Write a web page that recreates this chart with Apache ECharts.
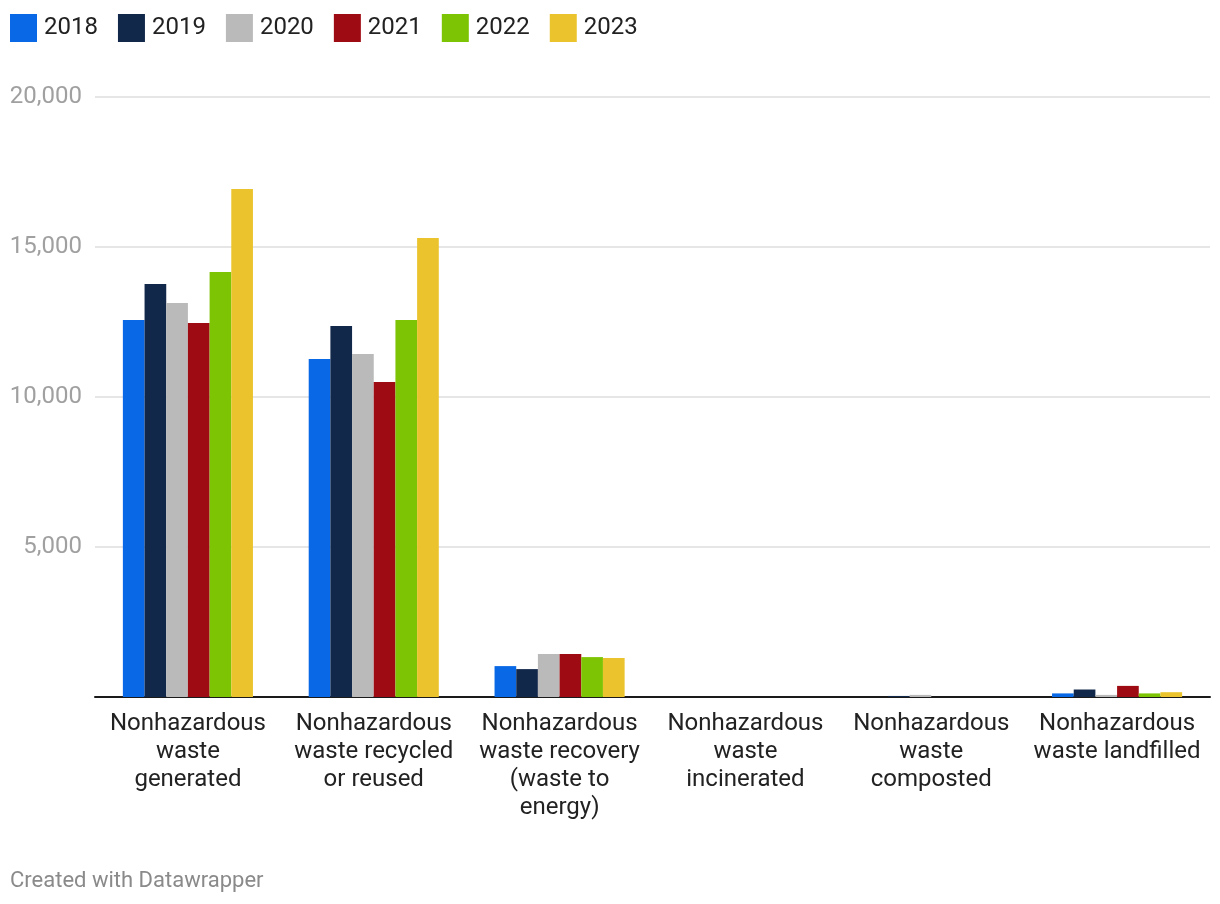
<!DOCTYPE html>
<html>
<head>
<meta charset="utf-8">
<script src="https://cdn.jsdelivr.net/npm/echarts@6/dist/echarts.min.js"></script>
<style>
html,body{margin:0;padding:0;background:#fff;}
#chart{width:1220px;height:904px;}
</style>
</head>
<body>
<div id="chart"></div>
<script>
const categories = [
  "Nonhazardous\nwaste\ngenerated",
  "Nonhazardous\nwaste recycled\nor reused",
  "Nonhazardous\nwaste recovery\n(waste to\nenergy)",
  "Nonhazardous\nwaste\nincinerated",
  "Nonhazardous\nwaste\ncomposted",
  "Nonhazardous\nwaste landfilled"
];
const years = ["2018", "2019", "2020", "2021", "2022", "2023"];
const v2018 = [12570, 11270, 1030, 0, 0, 120];
const v2019 = [13770, 12370, 930, 0, 35, 250];
const v2020 = [13130, 11430, 1430, 0, 70, 70];
const v2021 = [12470, 10500, 1430, 0, 0, 370];
const v2022 = [14170, 12570, 1330, 0, 0, 120];
const v2023 = [16930, 15300, 1300, 0, 0, 160];
const yTicks = [0, 5000, 10000, 15000, 20000];
const colors = ["#0868e6", "#12284a", "#bababa", "#9e0b12", "#7dc405", "#ebc42d"];
const seriesValues = [v2018, v2019, v2020, v2021, v2022, v2023];

const chart = echarts.init(document.getElementById('chart'), null, {renderer: 'canvas'});
const fontFamily = 'Roboto, "Noto Sans", sans-serif';
chart.setOption({
  animation: false,
  textStyle: {fontFamily: fontFamily},
  color: colors,
  legend: {
    left: 5,
    top: 9,
    itemWidth: 27,
    itemHeight: 28,
    itemGap: 20,
    icon: 'rect',
    textStyle: {fontSize: 24, color: '#222', fontFamily: fontFamily, padding: [0, 0, 0, 2]},
    data: years
  },
  grid: {left: 95, right: 10, top: 97, bottom: 207, containLabel: false},
  xAxis: {
    type: 'category',
    data: categories,
    axisLine: {lineStyle: {color: '#1a1a1a', width: 2}},
    axisTick: {show: false},
    axisLabel: {
      interval: 0,
      fontSize: 24,
      lineHeight: 28,
      color: '#222',
      margin: 13,
      fontFamily: fontFamily
    }
  },
  yAxis: {
    type: 'value',
    min: yTicks[0],
    max: yTicks[yTicks.length - 1],
    interval: 5000,
    axisLine: {show: false},
    axisTick: {show: false},
    splitLine: {lineStyle: {color: '#e6e6e6', width: 2}},
    axisLabel: {
      fontSize: 24,
      color: '#a0a0a0',
      margin: 13,
      fontFamily: fontFamily,
      formatter: function (v) { return v === 0 ? '' : v.toLocaleString('en-US'); }
    }
  },
  series: years.map(function (y, i) {
    return {
      name: y,
      type: 'bar',
      data: seriesValues[i],
      barGap: '0%',
      barCategoryGap: '30%',
      itemStyle: {color: colors[i]}
    };
  }),
  graphic: [{
    type: 'text',
    left: 10,
    top: 870,
    style: {text: 'Created with Datawrapper', fontSize: 22, fill: '#8a8a8a', fontFamily: fontFamily}
  }]
});
</script>
</body>
</html>
